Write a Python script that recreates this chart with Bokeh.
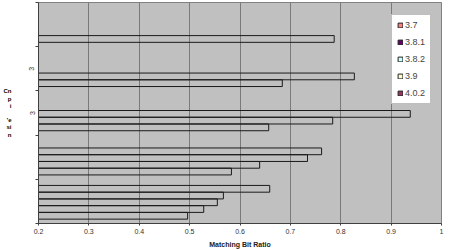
import math
from bokeh.plotting import figure
from bokeh.models import (Range1d, FixedTicker, CustomJSTickFormatter, Legend,
                          LegendItem, LinearAxis)
from bokeh.embed import file_html
from bokeh.resources import INLINE

# ---- data (categories bottom -> top) ----
categories = ["", "", "3", "3", ""]
series_names = ["3.7", "3.8.1", "3.8.2", "3.9", "4.0.2"]
s_3_7   = [0.496, 0.583, 0.657, 0.684, 0.787]
s_3_8_1 = [0.528, 0.639, 0.784, 0.827, None]
s_3_8_2 = [0.555, 0.734, 0.938, None, None]
s_3_9   = [0.567, 0.762, None, None, None]
s_4_0_2 = [0.659, None, None, None, None]
series_values = [s_3_7, s_3_8_1, s_3_8_2, s_3_9, s_4_0_2]
series_colors = ["#FF8080", "#660066", "#CCFFFF", "#FFFFCC", "#993366"]
x_ticks = [0.2, 0.3, 0.4, 0.5, 0.6, 0.7, 0.8, 0.9, 1.0]
y_title_parts = ["Cn", "p", "i", "", "'e", "si", "n"]

FONT = "Liberation Sans"

p = figure(width=450, height=250, output_backend="svg", toolbar_location=None,
           x_range=Range1d(0.2, 1.0), y_range=Range1d(0, len(categories)),
           min_border_left=38, min_border_right=9, min_border_top=2,
           min_border_bottom=25)
p.background_fill_color = "#C0C0C0"
p.border_fill_color = "white"
p.outline_line_color = "#808080"
p.outline_line_width = 1

# grid
p.ygrid.visible = False
p.xgrid.ticker = FixedTicker(ticks=x_ticks)
p.xgrid.grid_line_color = "#7a7a7a"
p.xgrid.grid_line_width = 1

# x axis
xa = p.xaxis[0]
xa.ticker = FixedTicker(ticks=x_ticks)
xa.formatter = CustomJSTickFormatter(code="return String(Math.round(tick*10)/10);")
xa.axis_line_color = "#404040"
xa.major_tick_line_color = "#404040"
xa.major_tick_out = 2
xa.major_tick_in = 0
xa.minor_tick_line_color = None
xa.major_label_standoff = 3
xa.major_label_text_font = FONT
xa.major_label_text_font_size = "7px"
xa.major_label_text_color = "#333333"
xa.axis_label = "Matching Bit Ratio"
xa.axis_label_text_font = FONT
xa.axis_label_text_font_size = "7px"
xa.axis_label_text_font_style = "bold"
xa.axis_label_text_color = "#222222"
xa.axis_label_standoff = 4

# y axis 1: ticks at category boundaries, no labels
ya = p.yaxis[0]
ya.ticker = FixedTicker(ticks=list(range(len(categories) + 1)))
ya.formatter = CustomJSTickFormatter(code="return '';")
ya.major_label_standoff = 0
ya.axis_line_color = "#404040"
ya.major_tick_line_color = "#404040"
ya.major_tick_out = 3
ya.major_tick_in = 0
ya.minor_tick_line_color = None

# y axis 2: category labels at centres + title
ya2 = LinearAxis(y_range_name="default")
ya2.ticker = FixedTicker(ticks=[i + 0.5 for i in range(len(categories))])
ya2.formatter = CustomJSTickFormatter(args=dict(labels=categories),
                                      code="const i = Math.floor(tick); return labels[i] || '';")
ya2.axis_line_color = None
ya2.major_tick_line_color = None
ya2.minor_tick_line_color = None
ya2.major_tick_out = 0
ya2.major_tick_in = 0
ya2.major_label_standoff = 1
ya2.major_label_orientation = "vertical"
ya2.major_label_text_font = FONT
ya2.major_label_text_font_size = "7px"
ya2.major_label_text_color = "#333333"
ya2.axis_label = "\n".join(y_title_parts)
ya2.axis_label_text_font = FONT
ya2.axis_label_text_font_size = "6px"
ya2.axis_label_text_font_style = "bold"
ya2.axis_label_text_color = "#000000"
ya2.axis_label_standoff = 15
if "axis_label_orientation" in ya2.properties():
    ya2.axis_label_orientation = "horizontal"
p.add_layout(ya2, "left")

# bars
n = len(series_names)
bar_h = 0.1525
for si, (name, vals) in enumerate(zip(series_names, series_values)):
    ys, rs = [], []
    for ci, v in enumerate(vals):
        if v is None:
            continue
        ys.append(ci + 0.48 + (si - (n - 1) / 2) * bar_h)
        rs.append(v)
    p.hbar(y=ys, left=0.2, right=rs, height=bar_h, fill_alpha=0,
           line_color="#1a1a1a", line_width=1)

# legend swatches (dummy renderers placed outside the visible range)
items = []
for name, col in zip(series_names, series_colors):
    r = p.hbar(y=[-10], left=[0.2], right=[0.3], height=0.1, fill_color=col,
               line_color="#222222", line_width=1)
    items.append(LegendItem(label=name, renderers=[r]))
legend = Legend(items=items, location=(353, 119), orientation="vertical",
                glyph_width=6, glyph_height=6, label_standoff=2,
                label_text_font=FONT, label_text_font_size="9px",
                label_height=7, spacing=7, padding=5, margin=0,
                border_line_color="#808080", background_fill_color="white",
                background_fill_alpha=1)
p.add_layout(legend, "center")

open("out.html", "w").write(file_html(p, INLINE))
